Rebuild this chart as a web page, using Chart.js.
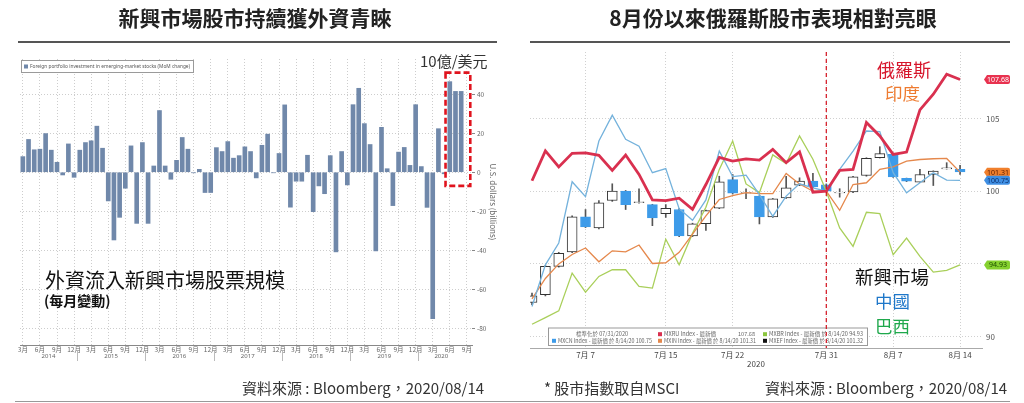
<!DOCTYPE html>
<html>
<head>
<meta charset="utf-8">
<title>新興市場股市</title>
<script src="https://cdn.jsdelivr.net/npm/chart.js@4/dist/chart.umd.min.js"></script>
<style>
html,body{margin:0;padding:0;background:#fff;}
#page{position:relative;width:1024px;height:403px;overflow:hidden;background:#fff;font-family:"Noto Sans CJK TC","Noto Sans",sans-serif;}
#c1,#c2{position:absolute;top:0;}
#c1{left:0;}
#c2{left:512px;}
.t{position:absolute;white-space:nowrap;line-height:1;}
.rule{position:absolute;background:#555;}
</style>
</head>
<body>
<div id="page">
<canvas id="c1" width="512" height="403"></canvas>
<canvas id="c2" width="512" height="403"></canvas>

<div class="t" style="left:0;width:510px;text-align:center;top:7px;font-size:21px;font-weight:700;color:#222;">新興市場股市持續獲外資青睞</div>
<div class="t" style="left:473px;width:600px;text-align:center;top:7px;font-size:21px;font-weight:700;color:#222;">8月份以來俄羅斯股市表現相對亮眼</div>
<div class="rule" style="left:18px;top:41px;width:479px;height:2px;"></div>
<div class="rule" style="left:530px;top:41px;width:480px;height:2px;"></div>

<div class="t" style="left:420px;top:53px;font-size:15px;color:#333;">10億/美元</div>
<div class="t" style="left:45px;top:270px;font-size:20px;color:#111;">外資流入新興市場股票規模</div>
<div class="t" style="left:44px;top:292.5px;font-size:14px;font-weight:700;color:#111;">(每月變動)</div>

<div class="t" style="left:877px;top:60px;font-size:18px;color:#d6152b;">俄羅斯</div>
<div class="t" style="left:885px;top:83.5px;font-size:17.5px;color:#ee7b30;">印度</div>
<div class="t" style="left:855px;top:266.5px;font-size:18.5px;color:#111;">新興市場</div>
<div class="t" style="left:875px;top:292px;font-size:17.5px;color:#1e77c9;">中國</div>
<div class="t" style="left:875px;top:317px;font-size:17.5px;color:#1fa84c;">巴西</div>

<div class="t" style="left:242px;top:379.5px;font-size:15px;color:#333;">資料來源 : Bloomberg，2020/08/14</div>
<div class="t" style="left:544px;top:379.5px;font-size:15px;color:#333;">* 股市指數取自MSCI</div>
<div class="t" style="left:765px;top:379.5px;font-size:15px;color:#333;">資料來源 : Bloomberg，2020/08/14</div>
<div class="rule" style="left:15px;top:401px;width:995px;height:1px;background:#999;"></div>
</div>

<script>
Chart.defaults.font.family = '"Noto Sans CJK TC","Noto Sans",sans-serif';
Chart.defaults.animation = false;

/* ================= LEFT CHART DATA ================= */
const flowFirstYear = 2014;
const flowFirstMonth = 3;
const flowValues = [
  8.0,16.8,11.5,11.8,19.8,11.3,5.1,-1.4,14.5,-2.6,
  11.3,15.2,16.1,23.6,12.3,-14.7,-34.7,-23.1,-8.2,13.5,
  -26.2,15.2,-26.2,3.2,31.6,3.2,-3.6,6.1,17.8,11.8,
  -0.3,1.5,-10.4,-10.4,12.6,10.6,15.7,7.2,8.5,13.0,
  10.6,-2.9,13.8,19.5,-0.3,9.6,34.5,-17.9,-4.6,-4.6,
  8.7,-20.2,-7.0,-11.0,8.5,-40.8,10.6,-6.5,34.6,43.0,
  24.9,14.2,-40.3,23.0,1.8,-17.1,10.3,12.7,3.5,34.6,
  2.9,-18.0,-75.0,22.3,-0.8,46.4,41.4,41.4
];
const flowTickMonths = [3,6,9,12];
const flowYTicks = [-80,-60,-40,-20,0,20,40];
const flowLegend = 'Foreign portfolio investment in emerging-market stocks (MoM change)';
const flowAxisTitle = 'U.S. dollars (billions)';
const flowHighlightCount = 3;

/* month / year categories (one extra month for the last axis tick) */
const flowMonth = [];
const flowYear = [];
for (let i = 0; i <= flowValues.length; i++) {
  const m = flowFirstMonth - 1 + i;
  flowMonth.push(m % 12 + 1);
  flowYear.push(flowFirstYear + Math.floor(m / 12));
}

/* ================= RIGHT CHART DATA ================= */
const tradeDates = ['7/1','7/2','7/3','7/6','7/7','7/8','7/9','7/10','7/13','7/14','7/15','7/16','7/17',
  '7/20','7/21','7/22','7/23','7/24','7/27','7/28','7/29','7/30','7/31',
  '8/3','8/4','8/5','8/6','8/7','8/10','8/11','8/12','8/13','8/14'];
const xTickDates = ['7/7','7/15','7/22','7/31','8/7','8/14'];
const baseDate = '7/31';
const russia = [100.72,102.77,101.67,102.6,102.64,102.47,101.43,102.49,101.15,99.4,99.35,99.52,98.75,
  100.46,102.33,102.07,102.22,102.14,102.88,101.96,102.7,99.93,100,
  101.43,101.5,104.72,103.8,102.53,102.69,105.59,106.67,108.05,107.68];
const china = [92.07,94.94,96.44,100.65,99.62,103.45,105.23,103.57,103.1,101.27,101.55,98.8,98.0,
  99.4,102.76,101.0,101.1,99.77,98.28,99.66,100.51,100.23,100,
  101.5,102.76,104.14,104.1,101.27,99.89,100.58,101.27,100.76,100.75];
const india = [92.6,94.0,95.0,95.65,96.1,95.15,95.9,95.83,96.3,95.03,95.08,95.8,97.05,
  98.3,99.43,99.7,99.9,99.84,99.84,101.22,100.5,100.0,100,
  98.69,100.46,100.58,101.5,101.68,102.07,102.18,102.23,102.25,101.31];
const brazil = [90.85,91.31,91.77,94.37,93.06,94.14,94.6,94.6,93.45,93.34,96.7,94.94,97.1,
  98.9,101.5,103.45,100.5,99.9,102.5,101.9,103.8,102.2,100,
  97.47,96.21,98.55,98.46,95.63,96.78,95.52,94.44,94.55,94.93];
const emOpen  = [92.35,92.88,94.83,95.82,98.23,97.47,99.36,100.0,99.22,99.08,98.46,98.74,96.92,
  97.76,98.83,100.8,99.87,99.66,98.23,99.54,100.41,100.69,100.43,
  99.88,99.95,101.08,102.3,102.53,100.88,100.62,101.15,101.54,101.5];
const emHigh  = [93.0,94.9,95.8,98.3,98.74,99.36,100.51,100.05,100.17,99.1,99.08,98.8,97.8,
  98.7,101.03,101.15,100.17,99.7,99.5,101.03,100.92,101.22,100.5,
  100.17,101.02,102.3,103.06,102.56,100.9,101.5,101.4,101.96,101.77];
const emLow   = [92.2,92.8,94.78,95.78,97.5,97.4,99.3,98.74,99.18,97.63,98.2,96.88,96.88,
  97.3,98.8,99.8,99.48,97.75,98.2,99.5,100.38,100.25,99.95,
  99.59,99.9,101.03,102.28,100.95,100.66,100.6,100.39,101.52,101.15];
const emClose = [92.8,94.83,95.72,98.23,97.54,99.2,100.0,99.08,99.27,98.16,98.83,96.92,97.76,
  98.67,100.65,99.86,99.91,98.23,99.48,100.23,100.69,100.3,100.0,
  99.92,100.99,102.26,102.58,100.99,100.69,101.15,101.38,101.6,101.32];
const idxYTicks = [90,95,100,105];

/* ================= STYLES ================= */
const C_BAR = '#7088aa';
const C_RU = '#d9304f', C_CN = '#74b2dc', C_IN = '#e5884c', C_BR = '#a9cf5a', C_DOWN = '#3d9be9';
const DOT = [1,2];

/* ================= LEFT CHART ================= */
const leftDecor = {
  id: 'leftDecor',
  afterDraw(chart) {
    const {ctx, chartArea: a, scales: {x, y}} = chart;
    ctx.save();
    // legend box
    ctx.fillStyle = '#fff';
    ctx.fillRect(a.left + 1, a.top + 1, 172, 12);
    ctx.strokeStyle = '#9a9a9a'; ctx.lineWidth = 1;
    ctx.strokeRect(a.left + 1.5, a.top + 1.5, 172, 12);
    ctx.fillStyle = C_BAR;
    ctx.fillRect(a.left + 4, a.top + 5.5, 4, 4);
    ctx.fillStyle = '#555';
    ctx.font = '5.6px "Noto Sans"';
    ctx.textBaseline = 'middle'; ctx.textAlign = 'left';
    ctx.fillText(flowLegend, a.left + 10, a.top + 7.8, 160);
    // year labels and separators
    ctx.font = '6px "Noto Sans"'; ctx.textAlign = 'center'; ctx.fillStyle = '#666';
    ctx.strokeStyle = '#bbb';
    const n = flowValues.length;
    const years = [...new Set(flowYear.slice(0, n))];
    years.forEach(yr => {
      const idx = [];
      for (let i = 0; i < n; i++) if (flowYear[i] === yr) idx.push(i);
      const first = idx[0], last = idx[idx.length - 1];
      ctx.fillText(String(yr), x.getPixelForValue((first + last) / 2), a.bottom + 11);
      if (first > 0) {
        const sx = Math.round(x.getPixelForValue(first - 0.5)) + 0.5;
        ctx.beginPath(); ctx.moveTo(sx, a.bottom + 6); ctx.lineTo(sx, a.bottom + 16); ctx.stroke();
      }
    });
    // red dashed highlight box around last months
    const hFirst = n - flowHighlightCount, hLast = n - 1;
    const bx1 = x.getPixelForValue(hFirst - 0.75), bx2 = x.getPixelForValue(hLast + 1.6);
    const by1 = y.getPixelForValue(51), by2 = y.getPixelForValue(-7);
    ctx.strokeStyle = '#e0141e'; ctx.lineWidth = 2.6; ctx.setLineDash([6, 3]);
    ctx.strokeRect(bx1, by1, bx2 - bx1, by2 - by1);
    ctx.restore();
  }
};

new Chart(document.getElementById('c1'), {
  type: 'bar',
  data: {
    datasets: [{
      label: flowLegend,
      data: flowValues.map((v, i) => ({x: i, y: v})),
      backgroundColor: C_BAR,
      barThickness: 4,
      grouped: false
    }]
  },
  options: {
    responsive: false,
    animation: false,
    layout: {padding: {left: 20, right: 10, top: 59, bottom: 33}},
    plugins: {legend: {display: false}, tooltip: {enabled: false}},
    scales: {
      x: {
        type: 'linear', offset: false, min: -0.5, max: 78.9,
        afterBuildTicks: s => {
          const t = [];
          flowMonth.forEach((m, i) => { if (flowTickMonths.includes(m)) t.push({value: i}); });
          s.ticks = t;
        },
        ticks: {autoSkip: false, maxRotation: 0, padding: 1, font: {size: 6.5}, color: '#666',
          callback: v => flowMonth[v] + '月'},
        grid: {offset: false, color: '#cdcdcd', drawTicks: false},
        border: {display: true, color: '#888', dash: DOT},
        afterFit: s => { s.height = 25; }
      },
      y: {
        type: 'linear', position: 'right', min: -88.5, max: 58,
        afterBuildTicks: s => { s.ticks = flowYTicks.map(v => ({value: v})); },
        ticks: {padding: 2, font: {size: 6.5}, color: '#666'},
        grid: {color: '#cdcdcd', drawTicks: true, tickLength: 3, tickColor: '#888'},
        border: {display: false, dash: DOT},
        title: {display: true, text: flowAxisTitle, font: {size: 8}, color: '#666', padding: {top: 4, bottom: 0}},
        afterFit: s => { s.width = 30; }
      }
    }
  },
  plugins: [leftDecor]
});

/* ================= RIGHT CHART ================= */
const rightDecor = {
  id: 'rightDecor',
  afterDraw(chart) {
    const {ctx, chartArea: a, scales: {x, y}} = chart;
    ctx.save();
    // legend box
    const bx = a.left + 18, by = a.bottom - 20.5, bw = 319, bh = 17.5;
    ctx.fillStyle = '#fff'; ctx.fillRect(bx, by, bw, bh);
    ctx.strokeStyle = '#999'; ctx.lineWidth = 1; ctx.strokeRect(bx + 0.5, by + 0.5, bw, bh);
    const r1 = by + 6.7, r2 = by + 13.3;
    ctx.font = '5.6px "Noto Sans CJK TC"'; ctx.textBaseline = 'middle';
    ctx.fillStyle = '#666'; ctx.textAlign = 'center';
    ctx.fillText('標準化於 07/31/2020', bx + 54, r1, 52);
    const sq = (cx, cy, col) => { ctx.fillStyle = col; ctx.fillRect(cx, cy - 2, 4, 4); };
    const tx = (s, cx, cy, w) => { ctx.fillStyle = '#666'; ctx.textAlign = 'left'; ctx.fillText(s, cx, cy, w); };
    sq(bx + 4, r2, C_DOWN);  tx('MXCN Index - 最新價 於 8/14/20 100.75', bx + 10, r2, 94);
    sq(bx + 110, r1, C_RU);  tx('MXRU Index - 最新價', bx + 116, r1, 60);
    ctx.textAlign = 'right'; ctx.fillText('107.68', bx + 207, r1);
    sq(bx + 110, r2, C_IN);  tx('MXIN Index - 最新價 於 8/14/20 101.31', bx + 116, r2, 92);
    sq(bx + 215, r1, '#8cc63f'); tx('MXBR Index - 最新價 於 8/14/20 94.93', bx + 221, r1, 94);
    sq(bx + 215, r2, '#111');   tx('MXEF Index - 最新價 於 8/14/20 101.32', bx + 221, r2, 94);
    // normalisation date dashed line
    const xb = x.getPixelForValue(tradeDates.indexOf(baseDate));
    ctx.strokeStyle = '#d4111e'; ctx.lineWidth = 1.2; ctx.setLineDash([4, 3]);
    ctx.beginPath(); ctx.moveTo(xb, a.top); ctx.lineTo(xb, a.bottom); ctx.stroke();
    ctx.setLineDash([]);
    // last value badges
    const badges = [[russia, '#e8324f', '#fff'], [india, '#f07f2c', '#5b1d00'],
                    [china, '#3f8fe3', '#0b2d6b'], [brazil, '#86d12f', '#1d4d00']];
    badges.forEach(([arr, bg, fg]) => {
      const v = arr[arr.length - 1];
      const yy = y.getPixelForValue(v);
      const x0 = a.right + 2, x1 = a.right + 28, h = 9;
      ctx.fillStyle = bg;
      ctx.beginPath();
      ctx.moveTo(x0, yy);
      ctx.lineTo(x0 + 3, yy - h / 2);
      ctx.lineTo(x1 - 2, yy - h / 2);
      ctx.quadraticCurveTo(x1, yy - h / 2, x1, yy - h / 2 + 2);
      ctx.lineTo(x1, yy + h / 2 - 2);
      ctx.quadraticCurveTo(x1, yy + h / 2, x1 - 2, yy + h / 2);
      ctx.lineTo(x0 + 3, yy + h / 2);
      ctx.closePath(); ctx.fill();
      ctx.fillStyle = fg; ctx.font = '7px "Noto Sans"'; ctx.textAlign = 'center'; ctx.textBaseline = 'middle';
      ctx.fillText(v.toFixed(2), (x0 + x1) / 2 + 1, yy + 0.5);
    });
    ctx.restore();
  }
};

const isUp = emClose.map((c, i) => c >= emOpen[i]);
const lineDs = (label, arr, color, width, order) => ({
  type: 'line', label, data: arr.map((v, i) => ({x: i, y: v})),
  borderColor: color, borderWidth: width, pointRadius: 0, tension: 0, fill: false, order
});

new Chart(document.getElementById('c2'), {
  type: 'line',
  data: {
    datasets: [
      {type: 'bar', label: 'MXEF range', data: tradeDates.map((d, i) => ({x: i, y: [emLow[i], emHigh[i]]})),
        backgroundColor: '#555', barThickness: 1, grouped: false, order: 11},
      {type: 'bar', label: 'MXEF', data: tradeDates.map((d, i) => ({x: i, y: [emOpen[i], emClose[i]]})),
        backgroundColor: isUp.map(u => u ? '#ffffff' : C_DOWN),
        borderColor: isUp.map(u => u ? '#333333' : C_DOWN),
        borderWidth: 1, borderSkipped: false, barThickness: 10, grouped: false, order: 10},
      lineDs('MXBR', brazil, C_BR, 1.3, 4),
      lineDs('MXIN', india, C_IN, 1.3, 3),
      lineDs('MXCN', china, C_CN, 1.3, 2),
      lineDs('MXRU', russia, C_RU, 2.8, 0)
    ]
  },
  options: {
    responsive: false,
    animation: false,
    layout: {padding: {left: 18, right: 12, top: 52, bottom: 30}},
    plugins: {legend: {display: false}, tooltip: {enabled: false}},
    scales: {
      x: {
        type: 'linear', offset: false, min: -0.15, max: 33.64,
        afterBuildTicks: s => { s.ticks = xTickDates.map(d => ({value: tradeDates.indexOf(d)})); },
        ticks: {autoSkip: false, maxRotation: 0, padding: 2, font: {size: 8}, color: '#444',
          callback: v => { const p = tradeDates[v].split('/'); return p[0] + '月 ' + p[1]; }},
        grid: {offset: false, color: '#d0d0d0', drawTicks: false},
        border: {display: true, color: '#aaa', dash: DOT},
        title: {display: true, text: '2020', font: {size: 8}, color: '#444', padding: {top: 0, bottom: 4}},
        afterFit: s => { s.height = 25; }
      },
      y: {
        type: 'linear', position: 'right', min: 89.22, max: 109.57,
        afterBuildTicks: s => { s.ticks = idxYTicks.map(v => ({value: v})); },
        ticks: {padding: 4, font: {size: 8}, color: '#555', callback: v => (v === 95 ? '' : String(v))},
        grid: {color: '#d0d0d0', drawTicks: false},
        border: {display: false, dash: DOT},
        afterFit: s => { s.width = 30; }
      }
    }
  },
  plugins: [rightDecor]
});
</script>
</body>
</html>
